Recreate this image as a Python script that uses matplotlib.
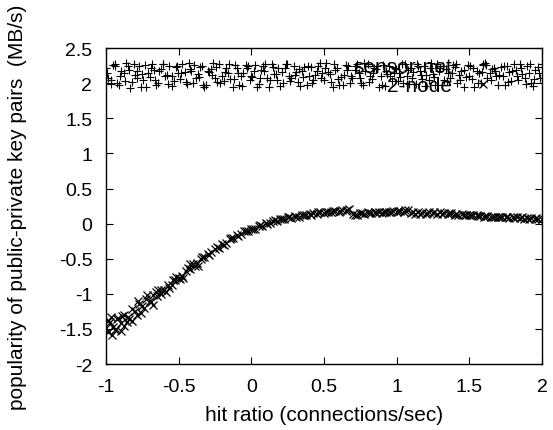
import matplotlib
matplotlib.use("Agg")
import matplotlib.pyplot as plt

plt.rcParams['font.family'] = ['Liberation Sans', 'DejaVu Sans']

# sensor-net: noisy band near the top
sensor_x_a = [-1.00, -0.97, -0.94, -0.91, -0.88, -0.85, -0.82, -0.79, -0.76, -0.73,
              -0.70, -0.67, -0.64, -0.61, -0.58, -0.55, -0.52, -0.49, -0.46, -0.43,
              -0.40, -0.37, -0.34, -0.31, -0.28, -0.25, -0.22, -0.19, -0.16, -0.13,
              -0.10, -0.07, -0.04, -0.01, 0.02, 0.05, 0.08, 0.11, 0.14, 0.17,
              0.20, 0.23, 0.26, 0.29, 0.32, 0.35, 0.38, 0.41, 0.44, 0.47,
              0.50, 0.53, 0.56, 0.59, 0.62, 0.65, 0.68, 0.71, 0.74, 0.77,
              0.80, 0.83, 0.86, 0.89, 0.92, 0.95, 0.98, 1.01, 1.04, 1.07,
              1.10, 1.13, 1.16, 1.19, 1.22, 1.25, 1.28, 1.31, 1.34, 1.37,
              1.40, 1.43, 1.46, 1.49, 1.52, 1.55, 1.58, 1.61, 1.64, 1.67,
              1.70, 1.73, 1.76, 1.79, 1.82, 1.85, 1.88, 1.91, 1.94, 1.97, 2.00]
sensor_y_a = [2.21, 2.05, 2.28, 1.97, 2.14, 2.24, 2.02, 2.18, 1.95, 2.26,
              2.09, 2.19, 2.00, 2.27, 2.12, 1.96, 2.23, 2.06, 2.16, 2.29,
              2.01, 2.13, 2.25, 1.98, 2.20, 2.08, 2.27, 2.03, 2.15, 1.94,
              2.22, 2.11, 2.26, 2.04, 2.17, 1.99, 2.24, 2.07, 2.28, 2.13,
              1.96, 2.21, 2.10, 2.25, 2.02, 2.18, 1.97, 2.23, 2.12, 2.29,
              2.05, 2.16, 1.95, 2.22, 2.09, 2.26, 2.01, 2.19, 2.14, 1.98,
              2.27, 2.06, 2.20, 2.11, 1.96, 2.24, 2.15, 2.03, 2.28, 2.10,
              2.21, 1.99, 2.17, 2.25, 2.04, 2.13, 2.27, 1.97, 2.20, 2.08,
              2.23, 2.12, 1.95, 2.26, 2.06, 2.18, 2.01, 2.29, 2.14, 2.22,
              1.98, 2.10, 2.25, 2.03, 2.19, 2.27, 2.07, 2.15, 1.96, 2.23, 2.28]
sensor_x_b = [-0.985, -0.955, -0.925, -0.895, -0.865, -0.835, -0.805, -0.775, -0.745, -0.715,
              -0.685, -0.655, -0.625, -0.595, -0.565, -0.535, -0.505, -0.475, -0.445, -0.415,
              -0.385, -0.355, -0.325, -0.295, -0.265, -0.235, -0.205, -0.175, -0.145, -0.115,
              -0.085, -0.055, -0.025, 0.005, 0.035, 0.065, 0.095, 0.125, 0.155, 0.185,
              0.215, 0.245, 0.275, 0.305, 0.335, 0.365, 0.395, 0.425, 0.455, 0.485,
              0.515, 0.545, 0.575, 0.605, 0.635, 0.665, 0.695, 0.725, 0.755, 0.785,
              0.815, 0.845, 0.875, 0.905, 0.935, 0.965, 0.995, 1.025, 1.055, 1.085,
              1.115, 1.145, 1.175, 1.205, 1.235, 1.265, 1.295, 1.325, 1.355, 1.385,
              1.415, 1.445, 1.475, 1.505, 1.535, 1.565, 1.595, 1.625, 1.655, 1.685,
              1.715, 1.745, 1.775, 1.805, 1.835, 1.865, 1.895, 1.925, 1.955, 1.985]
sensor_y_b = [2.08, 2.26, 2.00, 2.17, 2.29, 1.93, 2.12, 2.24, 2.05, 2.15,
              2.28, 1.97, 2.20, 2.10, 2.25, 2.03, 2.14, 2.27, 1.99, 2.18,
              2.07, 2.23, 1.95, 2.16, 2.29, 2.02, 2.11, 2.21, 2.06, 2.26,
              1.98, 2.15, 2.24, 2.09, 1.94, 2.19, 2.28, 2.04, 2.13, 2.22,
              2.00, 2.27, 2.08, 2.16, 1.96, 2.23, 2.11, 2.05, 2.25, 2.14,
              2.29, 2.02, 2.19, 1.97, 2.12, 2.24, 2.07, 2.28, 2.00, 2.17,
              2.10, 2.22, 1.95, 2.26, 2.13, 2.03, 2.20, 2.09, 2.27, 1.99,
              2.16, 2.24, 2.06, 2.12, 2.29, 1.98, 2.21, 2.04, 2.15, 2.26,
              2.01, 2.18, 2.09, 2.25, 1.94, 2.14, 2.28, 2.07, 2.20, 2.11,
              2.23, 1.97, 2.16, 2.27, 2.05, 2.13, 2.24, 2.00, 2.19, 2.08]
sensor_x_c = [-0.993, -0.968, -0.941, -0.905, -0.872, -0.846, -0.811, -0.789, -0.752, -0.726,
              -0.694, -0.661, -0.633, -0.606, -0.571, -0.544, -0.512, -0.483, -0.452, -0.424,
              -0.392, -0.363, -0.331, -0.302, -0.274, -0.241, -0.213, -0.182, -0.151, -0.122,
              -0.093, -0.062, -0.033, -0.004, 0.027, 0.058, 0.087, 0.118, 0.147, 0.176,
              0.208, 0.236, 0.268, 0.297, 0.327, 0.356, 0.388, 0.417, 0.448, 0.477,
              0.507, 0.538, 0.567, 0.597, 0.628, 0.657, 0.688, 0.717, 0.748, 0.777,
              0.806, 0.838, 0.867, 0.897, 0.928, 0.957, 0.988, 1.017, 1.046, 1.078,
              1.107, 1.138, 1.167, 1.196, 1.228, 1.257, 1.288, 1.317, 1.346, 1.378,
              1.407, 1.438, 1.466, 1.497, 1.527, 1.558, 1.587, 1.616, 1.648, 1.677,
              1.707, 1.738, 1.766, 1.797, 1.827, 1.856, 1.887, 1.916, 1.947, 1.977]
sensor_y_c = [2.15, 1.99, 2.24, 2.11, 2.03, 2.19, 2.27, 2.08, 2.13, 1.95,
              2.22, 2.05, 2.17, 2.28, 1.99, 2.10, 2.25, 2.14, 2.02, 2.20,
              2.26, 2.09, 1.97, 2.18, 2.12, 2.23, 2.00, 2.16, 2.27, 2.06,
              2.14, 1.96, 2.21, 2.11, 2.26, 2.07, 2.18, 1.95, 2.23, 2.04,
              2.16, 2.28, 2.03, 2.12, 2.20, 2.09, 2.25, 2.01, 2.17, 2.07,
              2.22, 2.13, 2.27, 2.06, 1.98, 2.19, 2.11, 2.24, 2.08, 2.29,
              2.02, 2.15, 2.25, 1.97, 2.18, 2.10, 2.22, 2.14, 2.01, 2.19,
              2.07, 2.28, 2.12, 1.96, 2.21, 2.09, 2.17, 2.24, 2.03, 2.14,
              2.27, 2.05, 2.19, 2.11, 2.22, 2.00, 2.16, 2.26, 2.04, 2.18,
              2.12, 2.24, 2.02, 2.18, 2.10, 2.21, 1.99, 2.27, 2.06, 2.15]

# 2-node: rising curve that levels off
node_x_a = [-1.000, -0.975, -0.950, -0.925, -0.900, -0.875, -0.850, -0.825, -0.800, -0.775,
            -0.750, -0.725, -0.700, -0.675, -0.650, -0.625, -0.600, -0.575, -0.550, -0.525,
            -0.500, -0.475, -0.450, -0.425, -0.400, -0.375, -0.350, -0.325, -0.300, -0.275,
            -0.250, -0.225, -0.200, -0.175, -0.150, -0.125, -0.100, -0.075, -0.050, -0.025,
            0.000, 0.025, 0.050, 0.075, 0.100, 0.125, 0.150, 0.175, 0.200, 0.225,
            0.250, 0.275, 0.300, 0.325, 0.350, 0.375, 0.400, 0.425, 0.450, 0.475,
            0.500, 0.525, 0.550, 0.575, 0.600, 0.625, 0.650, 0.675, 0.700, 0.725,
            0.750, 0.775, 0.800, 0.825, 0.850, 0.875, 0.900, 0.925, 0.950, 0.975,
            1.000, 1.025, 1.050, 1.075, 1.100, 1.125, 1.150, 1.175, 1.200, 1.225,
            1.250, 1.275, 1.300, 1.325, 1.350, 1.375, 1.400, 1.425, 1.450, 1.475,
            1.500, 1.525, 1.550, 1.575, 1.600, 1.625, 1.650, 1.675, 1.700, 1.725,
            1.750, 1.775, 1.800, 1.825, 1.850, 1.875, 1.900, 1.925, 1.950, 1.975, 2.000]
node_y_a = [-1.48, -1.40, -1.47, -1.36, -1.42, -1.30, -1.33, -1.22, -1.25, -1.15,
            -1.18, -1.08, -1.10, -1.01, -1.03, -0.94, -0.95, -0.87, -0.87, -0.80,
            -0.77, -0.74, -0.68, -0.65, -0.58, -0.56, -0.50, -0.48, -0.43, -0.41,
            -0.36, -0.34, -0.29, -0.27, -0.22, -0.21, -0.16, -0.15, -0.11, -0.10,
            -0.07, -0.07, -0.03, -0.03, 0.01, 0.01, 0.04, 0.04, 0.07, 0.06,
            0.09, 0.08, 0.11, 0.10, 0.13, 0.12, 0.14, 0.15, 0.14, 0.16,
            0.15, 0.17, 0.16, 0.18, 0.17, 0.19, 0.18, 0.21, 0.14, 0.13,
            0.15, 0.14, 0.16, 0.15, 0.16, 0.17, 0.15, 0.17, 0.16, 0.18,
            0.17, 0.18, 0.17, 0.19, 0.15, 0.14, 0.16, 0.15, 0.14, 0.16,
            0.15, 0.14, 0.16, 0.15, 0.14, 0.15, 0.13, 0.12, 0.14, 0.13,
            0.12, 0.13, 0.12, 0.11, 0.10, 0.11, 0.10, 0.09, 0.10, 0.10,
            0.09, 0.08, 0.09, 0.09, 0.08, 0.07, 0.08, 0.08, 0.07, 0.06, 0.07]
node_x_b = [-0.99, -0.94, -0.89, -0.84, -0.79, -0.74, -0.69, -0.64, -0.59, -0.54,
            -0.49, -0.44, -0.39, -0.34, -0.29, -0.24, -0.19, -0.14, -0.09, -0.04,
            0.01, 0.06, 0.11, 0.16, 0.21, 0.26, 0.31, 0.36, 0.41, 0.46,
            0.51, 0.56, 0.61, 0.66, 0.71, 0.76, 0.81, 0.86, 0.91, 0.96,
            1.01, 1.06, 1.11, 1.16, 1.21, 1.26, 1.31, 1.36, 1.41, 1.46,
            1.51, 1.56, 1.61, 1.66, 1.71, 1.76, 1.81, 1.86, 1.91, 1.96]
node_y_b = [-1.38, -1.52, -1.31, -1.36, -1.30, -1.20, -1.12, -0.95, -0.97, -0.80,
            -0.79, -0.63, -0.61, -0.47, -0.45, -0.33, -0.31, -0.20, -0.17, -0.10,
            -0.08, -0.02, 0.00, 0.05, 0.06, 0.10, 0.10, 0.13, 0.13, 0.16,
            0.16, 0.18, 0.18, 0.20, 0.13, 0.15, 0.15, 0.15, 0.17, 0.17,
            0.18, 0.19, 0.16, 0.14, 0.15, 0.16, 0.14, 0.15, 0.14, 0.12,
            0.13, 0.11, 0.11, 0.09, 0.10, 0.10, 0.08, 0.09, 0.07, 0.08]
node_x_c = [-0.99, -0.97, -0.96, -0.93, -0.92, -0.90, -0.88, -0.86, -0.82, -0.78,
            -0.76, -0.72, -0.68, -0.66, -0.62, -0.57, -0.52, -0.47, -0.42, -0.37]
node_y_c = [-1.55, -1.33, -1.58, -1.50, -1.35, -1.53, -1.46, -1.40, -1.38, -1.10,
            -1.27, -1.02, -1.16, -0.97, -1.00, -0.92, -0.76, -0.78, -0.58, -0.60]

fig = plt.figure(figsize=(5.53, 4.31), dpi=100)
ax = fig.add_axes([0.192, 0.153, 0.788, 0.733])

ax.plot(sensor_x_a + sensor_x_b + sensor_x_c, sensor_y_a + sensor_y_b + sensor_y_c,
        linestyle='none', marker='+', markersize=5.5, markeredgewidth=0.8,
        color='black', label='sensor-net')
ax.plot(node_x_a + node_x_b + node_x_c, node_y_a + node_y_b + node_y_c, linestyle='none',
        marker='x', markersize=5.5, markeredgewidth=0.9, color='black', label='2-node')

ax.set_xlim(-1, 2)
ax.set_ylim(-2, 2.5)
ax.set_xticks([-1, -0.5, 0, 0.5, 1, 1.5, 2])
ax.set_xticklabels(['-1', '-0.5', '0', '0.5', '1', '1.5', '2'])
ax.set_yticks([-2, -1.5, -1, -0.5, 0, 0.5, 1, 1.5, 2, 2.5])
ax.set_yticklabels(['-2', '-1.5', '-1', '-0.5', '0', '0.5', '1', '1.5', '2', '2.5'])
ax.tick_params(direction='in', length=5, width=0.8, top=True, right=True, labelsize=14)
ax.tick_params(axis='x', pad=10)
ax.tick_params(axis='y', pad=10)
for s in ax.spines.values():
    s.set_linewidth(1.0)

ax.set_xlabel('hit ratio (connections/sec)', fontsize=15, labelpad=7)
ax.set_ylabel('popularity of public-private key pairs  (MB/s)', fontsize=15)
ax.yaxis.set_label_coords(-0.182, 0.5)

ax.legend(loc='upper right', bbox_to_anchor=(0.913, 0.972), frameon=False, markerfirst=False,
          fontsize=15, handlelength=2, handletextpad=0.5, labelspacing=0.0,
          borderaxespad=0, borderpad=0)

fig.savefig('out.png', dpi=100)
